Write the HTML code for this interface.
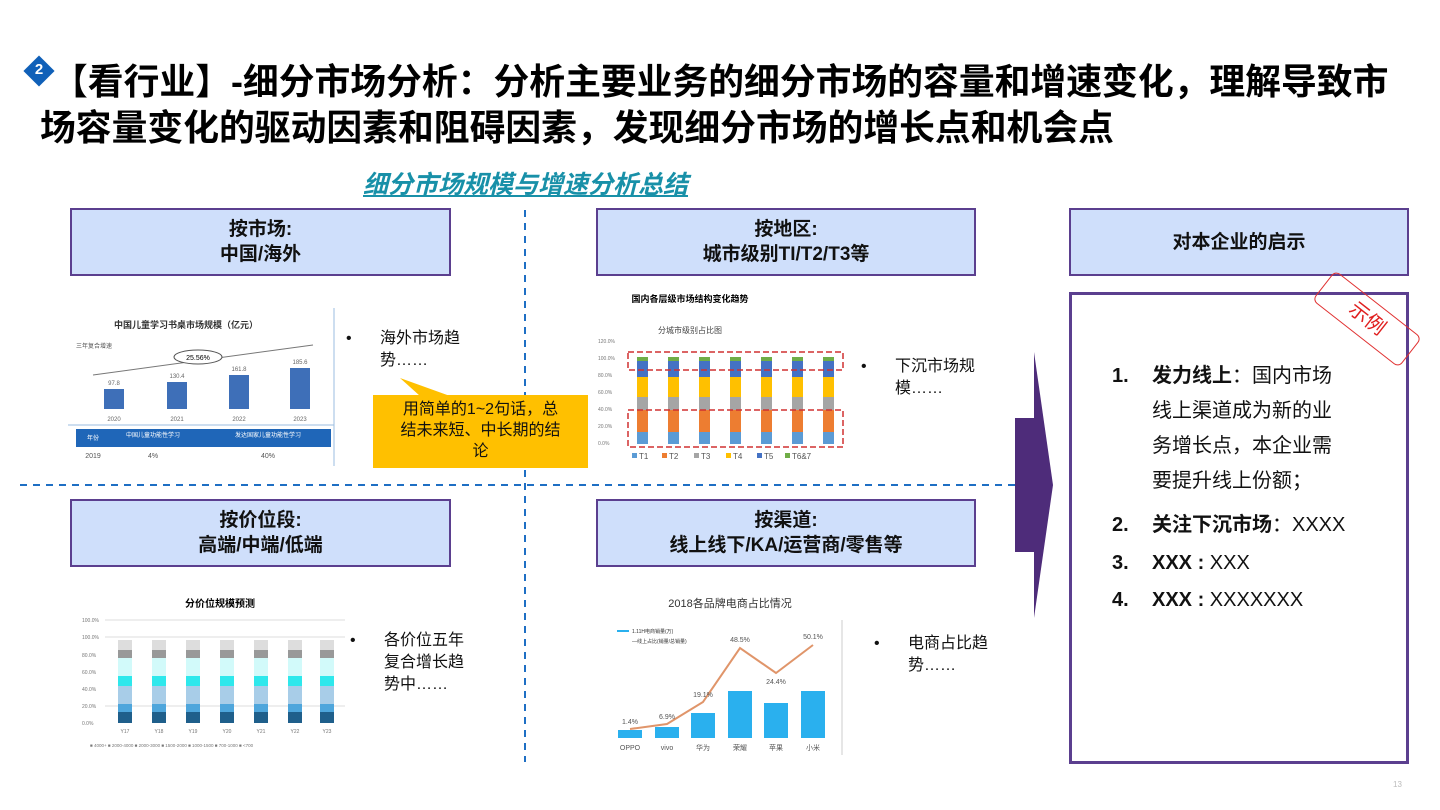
<!DOCTYPE html>
<html><head><meta charset="utf-8">
<style>
body{margin:0;width:1440px;height:810px;background:#fff;position:relative;overflow:hidden;font-family:"Liberation Sans","Noto Sans CJK SC",sans-serif;}
.a{position:absolute;}
.hb{position:absolute;background:#cfdffb;border:2px solid #5b3f8f;box-sizing:border-box;text-align:center;font-size:19px;font-weight:bold;color:#111;line-height:25px;display:flex;flex-direction:column;justify-content:center;}
.t{position:absolute;font-size:35.8px;font-weight:bold;color:#000;white-space:nowrap;letter-spacing:0px}
.bl{position:absolute;font-size:16px;color:#111;line-height:22px}
.bl:before{content:"•";position:absolute;left:-34px;top:0}
</style></head><body>
<div class="a" style="left:28px;top:60px;width:22px;height:22px;background:#1060b8;transform:rotate(45deg);"></div>
<div class="a" style="left:28px;top:61px;width:22px;text-align:center;color:#fff;font-weight:bold;font-size:15px;">2</div>
<div class="t" style="left:52px;top:53px;">【看行业】-细分市场分析：分析主要业务的细分市场的容量和增速变化，理解导致市</div>
<div class="t" style="left:40px;top:99px;">场容量变化的驱动因素和阻碍因素，发现细分市场的增长点和机会点</div>
<div class="a" style="left:363px;top:165px;font-size:25px;font-weight:bold;font-style:italic;color:#1890a8;text-decoration:underline;">细分市场规模与增速分析总结</div>

<svg class="a" style="left:0;top:0" width="1440" height="810">
<line x1="525" y1="210" x2="525" y2="762" stroke="#1f6fc4" stroke-width="2" stroke-dasharray="7,6"/>
<line x1="20" y1="485" x2="1015" y2="485" stroke="#1f6fc4" stroke-width="2" stroke-dasharray="7,6"/>
<rect x="1015" y="418" width="20" height="134" fill="#4e2c7a"/>
<polygon points="1034,352 1053,485 1034,618" fill="#4e2c7a"/>
<polygon points="400,378 420,396 450,396" fill="#ffc000"/>
</svg>

<div class="hb" style="left:70px;top:208px;width:381px;height:68px;">按市场:<br>中国/海外</div>
<div class="hb" style="left:596px;top:208px;width:380px;height:68px;">按地区:<br>城市级别TI/T2/T3等</div>
<div class="hb" style="left:1069px;top:208px;width:340px;height:68px;">对本企业的启示</div>
<div class="hb" style="left:70px;top:499px;width:381px;height:68px;">按价位段:<br>高端/中端/低端</div>
<div class="hb" style="left:596px;top:499px;width:380px;height:68px;">按渠道:<br>线上线下/KA/运营商/零售等</div>

<div class="a" style="left:1069px;top:292px;width:340px;height:472px;border:3px solid #5b3f8f;box-sizing:border-box;"></div>
<div class="a" style="left:1312px;top:300px;width:108px;height:36px;border:1.5px solid #e03030;border-radius:6px;transform:rotate(38deg);color:#e02020;font-size:20px;text-align:center;line-height:36px;">示例</div>
<div class="a" style="left:1112px;top:359px;font-size:20px;color:#111;line-height:35px;">
<div style="position:relative;padding-left:40px;width:192px"><b style="position:absolute;left:0">1.</b><b>发力线上</b>：国内市场线上渠道成为新的业务增长点，本企业需要提升线上份额；</div>
<div style="position:relative;padding-left:40px;margin-top:9px;white-space:nowrap"><b style="position:absolute;left:0">2.</b><b>关注下沉市场</b>：XXXX</div>
<div style="position:relative;padding-left:40px;margin-top:3px;white-space:nowrap"><b style="position:absolute;left:0">3.</b><b>XXX :</b> XXX</div>
<div style="position:relative;padding-left:40px;margin-top:2px;white-space:nowrap"><b style="position:absolute;left:0">4.</b><b>XXX :</b> XXXXXXX</div>
</div>

<div class="bl" style="left:380px;top:328px;width:90px;">海外市场趋势……</div>
<div class="bl" style="left:895px;top:356px;width:90px;">下沉市场规模……</div>
<div class="bl" style="left:384px;top:630px;width:88px;">各价位五年复合增长趋势中……</div>
<div class="bl" style="left:908px;top:633px;width:90px;">电商占比趋势……</div>

<div class="a" style="left:373px;top:395px;width:215px;height:73px;background:#ffc000;font-size:16px;line-height:21px;text-align:center;color:#111;padding:4px 26px 0;box-sizing:border-box;">用简单的1~2句话，总结未来短、中长期的结论</div>

<!-- chart 1 -->
<svg class="a" style="left:68px;top:308px" width="268" height="160" font-family="Liberation Sans,Noto Sans CJK SC,sans-serif">
<line x1="266" y1="0" x2="266" y2="158" stroke="#9bbde0"/>
<text x="118" y="20" font-size="9" font-weight="bold" text-anchor="middle" fill="#333">中国儿童学习书桌市场规模（亿元）</text>
<text x="8" y="40" font-size="6" fill="#555">三年复合增速</text>
<line x1="25" y1="67" x2="245" y2="37" stroke="#777"/>
<ellipse cx="130" cy="49" rx="24" ry="7" fill="#fff" stroke="#555"/>
<text x="130" y="52" font-size="7" text-anchor="middle">25.56%</text>
<rect x="36" y="81" width="20" height="20" fill="#3e6fb8"/><rect x="99" y="74" width="20" height="27" fill="#3e6fb8"/>
<rect x="161" y="67" width="20" height="34" fill="#3e6fb8"/><rect x="222" y="60" width="20" height="41" fill="#3e6fb8"/>
<g font-size="6" fill="#666" text-anchor="middle"><text x="46" y="77">97.8</text><text x="109" y="70">130.4</text><text x="171" y="63">161.8</text><text x="232" y="56">185.6</text>
<text x="46" y="113">2020</text><text x="109" y="113">2021</text><text x="171" y="113">2022</text><text x="232" y="113">2023</text></g>
<line x1="0" y1="117" x2="266" y2="117" stroke="#9bbde0"/>
<rect x="8" y="121" width="255" height="18" fill="#1f66b8"/>
<g font-size="6" fill="#fff" text-anchor="middle"><text x="25" y="132">年份</text><text x="85" y="129">中国儿童功能性学习</text><text x="200" y="129">发达国家儿童功能性学习</text></g>
<g font-size="7" fill="#555" text-anchor="middle"><text x="25" y="150">2019</text><text x="85" y="150">4%</text><text x="200" y="150">40%</text></g>
</svg>

<!-- chart 2 -->
<svg class="a" style="left:595px;top:290px" width="255" height="175" font-family="Liberation Sans,Noto Sans CJK SC,sans-serif">
<defs><g id="b">
<rect x="0" y="142" width="11" height="12" fill="#5b9bd5"/><rect x="0" y="120" width="11" height="22" fill="#ed7d31"/><rect x="0" y="107" width="11" height="13" fill="#a5a5a5"/><rect x="0" y="87" width="11" height="20" fill="#ffc000"/><rect x="0" y="71" width="11" height="16" fill="#4472c4"/><rect x="0" y="67" width="11" height="4" fill="#70ad47"/>
</g></defs>
<text x="95" y="12" font-size="9" font-weight="bold" text-anchor="middle">国内各层级市场结构变化趋势</text>
<text x="95" y="43" font-size="8" fill="#444" text-anchor="middle">分城市级别占比图</text>
<g font-size="5" fill="#777"><text x="3" y="53">120.0%</text><text x="3" y="70">100.0%</text><text x="3" y="87">80.0%</text><text x="3" y="104">60.0%</text><text x="3" y="121">40.0%</text><text x="3" y="138">20.0%</text><text x="3" y="155">0.0%</text></g>
<use href="#b" x="42"/><use href="#b" x="73"/><use href="#b" x="104"/><use href="#b" x="135"/><use href="#b" x="166"/><use href="#b" x="197"/><use href="#b" x="228"/>
<rect x="33" y="62" width="215" height="18" fill="none" stroke="#d03030" stroke-width="1.5" stroke-dasharray="6,3"/>
<rect x="33" y="120" width="215" height="37" fill="none" stroke="#d03030" stroke-width="1.5" stroke-dasharray="6,3"/>
<g font-size="8" fill="#555"><rect x="37" y="163" width="5" height="5" fill="#5b9bd5"/><text x="44" y="169">T1</text><rect x="67" y="163" width="5" height="5" fill="#ed7d31"/><text x="74" y="169">T2</text><rect x="99" y="163" width="5" height="5" fill="#a5a5a5"/><text x="106" y="169">T3</text><rect x="131" y="163" width="5" height="5" fill="#ffc000"/><text x="138" y="169">T4</text><rect x="162" y="163" width="5" height="5" fill="#4472c4"/><text x="169" y="169">T5</text><rect x="190" y="163" width="5" height="5" fill="#70ad47"/><text x="197" y="169">T6&amp;7</text></g>
</svg>

<!-- chart 3 -->
<svg class="a" style="left:80px;top:590px" width="280" height="165" font-family="Liberation Sans,Noto Sans CJK SC,sans-serif">
<defs><g id="c">
<rect x="0" y="122" width="14" height="11" fill="#1f5f8b"/><rect x="0" y="114" width="14" height="8" fill="#4ea6dc"/><rect x="0" y="96" width="14" height="18" fill="#a8cde8"/><rect x="0" y="86" width="14" height="10" fill="#2ee8ec"/><rect x="0" y="68" width="14" height="18" fill="#d2fafa"/><rect x="0" y="60" width="14" height="8" fill="#999"/><rect x="0" y="50" width="14" height="10" fill="#ddd"/>
</g></defs>
<text x="140" y="17" font-size="10" font-weight="bold" text-anchor="middle">分价位规模预测</text>
<g stroke="#ddd"><line x1="25" y1="30" x2="265" y2="30"/><line x1="25" y1="47" x2="265" y2="47"/><line x1="25" y1="116" x2="265" y2="116"/></g>
<g font-size="5" fill="#777"><text x="2" y="32">100.0%</text><text x="2" y="49">100.0%</text><text x="2" y="67">80.0%</text><text x="2" y="84">60.0%</text><text x="2" y="101">40.0%</text><text x="2" y="118">20.0%</text><text x="2" y="135">0.0%</text></g>
<use href="#c" x="38"/><use href="#c" x="72"/><use href="#c" x="106"/><use href="#c" x="140"/><use href="#c" x="174"/><use href="#c" x="208"/><use href="#c" x="240"/>
<g font-size="5" fill="#777" text-anchor="middle"><text x="45" y="143">Y17</text><text x="79" y="143">Y18</text><text x="113" y="143">Y19</text><text x="147" y="143">Y20</text><text x="181" y="143">Y21</text><text x="215" y="143">Y22</text><text x="247" y="143">Y23</text></g>
<text x="10" y="157" font-size="4.5" fill="#777">■ 4000+ ■ 2000-4000 ■ 2000-3000 ■ 1500-2000 ■ 1000-1500 ■ 700-1000 ■ &lt;700</text>
</svg>

<!-- chart 4 -->
<svg class="a" style="left:600px;top:590px" width="250" height="170" font-family="Liberation Sans,Noto Sans CJK SC,sans-serif">
<text x="130" y="17" font-size="11" fill="#333" text-anchor="middle">2018各品牌电商占比情况</text>
<line x1="242" y1="30" x2="242" y2="165" stroke="#ccc"/>
<rect x="17" y="40" width="12" height="2" fill="#2ab0ee"/><text x="32" y="43" font-size="5" fill="#333">1.11H电商销量(万)</text>
<text x="32" y="53" font-size="5" fill="#333">—线上占比(销量/总销量)</text>
<g fill="#2ab0ee"><rect x="18" y="140" width="24" height="8"/><rect x="55" y="137" width="24" height="11"/><rect x="91" y="123" width="24" height="25"/><rect x="128" y="101" width="24" height="47"/><rect x="164" y="113" width="24" height="35"/><rect x="201" y="101" width="24" height="47"/></g>
<polyline points="30,139 67,134 103,112 140,58 176,83 213,55" fill="none" stroke="#e0956a" stroke-width="2"/>
<g font-size="7" fill="#555" text-anchor="middle"><text x="30" y="134">1.4%</text><text x="67" y="129">6.9%</text><text x="103" y="107">19.1%</text><text x="140" y="52">48.5%</text><text x="176" y="94">24.4%</text><text x="213" y="49">50.1%</text>
<text x="30" y="160">OPPO</text><text x="67" y="160">vivo</text><text x="103" y="160">华为</text><text x="140" y="160">荣耀</text><text x="176" y="160">苹果</text><text x="213" y="160">小米</text></g>
</svg>
<div class="a" style="left:1393px;top:780px;font-size:8px;color:#bbb;">13</div>
</body></html>
